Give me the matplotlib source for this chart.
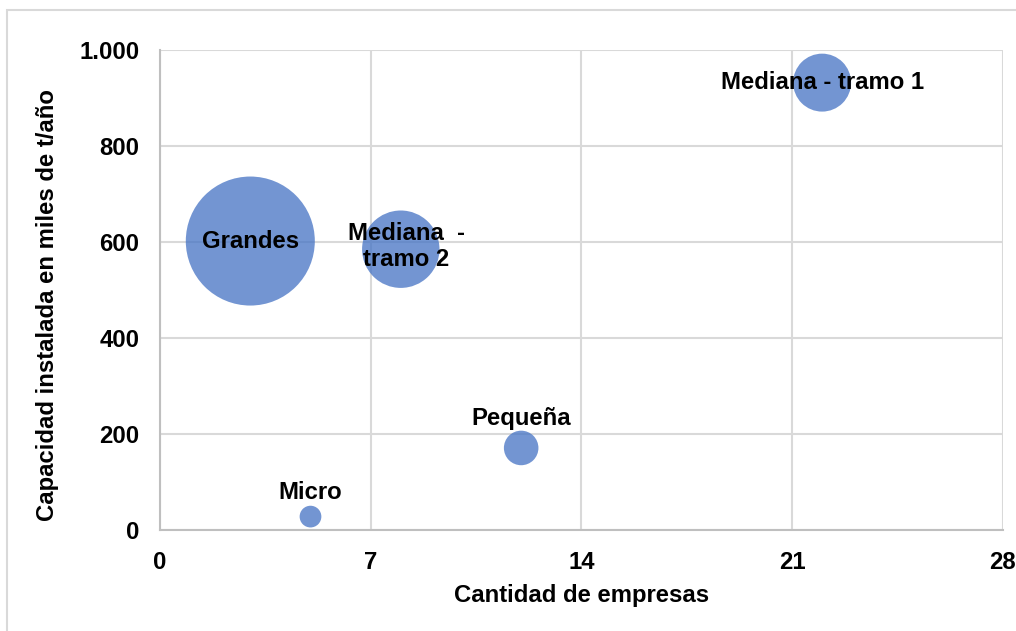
import matplotlib
matplotlib.use("Agg")
from matplotlib import pyplot as plt
from matplotlib.patches import Rectangle
from matplotlib.ticker import FuncFormatter

plt.rcParams['font.family'] = ['Liberation Sans', 'DejaVu Sans']
plt.rcParams['font.weight'] = 'bold'

# datos
categorias = ["Micro", "Pequeña", "Grandes", "Mediana  -\ntramo 2", "Mediana - tramo 1"]
empresas = [5, 12, 3, 8, 22]
capacidad = [28, 171, 602, 585, 932]
tamano = [1.7, 4.3, 60, 21.6, 12.1]   # tamaño de burbuja (participación %)

# desplazamiento de etiquetas en puntos
offsets = [(0, 17), (0, 21), (0, 0), (4, 2), (0, 0)]

fs = 17.2

fig = plt.figure(figsize=(10.16, 6.31), dpi=100)
ax = fig.add_axes([0.1575, 0.16, 0.8294, 0.7608])

# borde del gráfico
fig.patches.append(Rectangle((7 / 1016, -0.05), 1.1, 1 - 10 / 631 + 0.05,
                             transform=fig.transFigure, fill=False,
                             edgecolor="#D9D9D9", lw=1.5))

k = 8630 / 60
ax.scatter(empresas, capacidad, s=[t * k for t in tamano], color="#4472C4",
           alpha=0.75, edgecolors="none", zorder=3)

for cat, x, y, off in zip(categorias, empresas, capacidad, offsets):
    ax.annotate(cat, (x, y), xytext=off, textcoords="offset points",
                ha="center", va="center", fontsize=fs, fontweight="bold",
                zorder=4)

ax.set_xlim(0, 28)
ax.set_ylim(0, 1000)
ax.set_xticks([0, 7, 14, 21, 28])
ax.set_yticks([0, 200, 400, 600, 800, 1000])
ax.yaxis.set_major_formatter(FuncFormatter(lambda v, p: f"{v:,.0f}".replace(",", ".")))

ax.grid(True, color="#D9D9D9", lw=1.5, zorder=1)
ax.set_axisbelow(True)
for s in ["top", "right"]:
    ax.spines[s].set_visible(False)
for s in ["left", "bottom"]:
    ax.spines[s].set_color("#BFBFBF")
    ax.spines[s].set_linewidth(1.5)
ax.tick_params(length=0, labelsize=fs, pad=15)

ax.set_xlabel("Cantidad de empresas", fontsize=fs, fontweight="bold", labelpad=7)
ax.set_ylabel("Capacidad instalada en miles de t/año", fontsize=fs,
              fontweight="bold")
ax.yaxis.set_label_coords(-0.12, 0.469)

plt.savefig("out.png", dpi=100)
